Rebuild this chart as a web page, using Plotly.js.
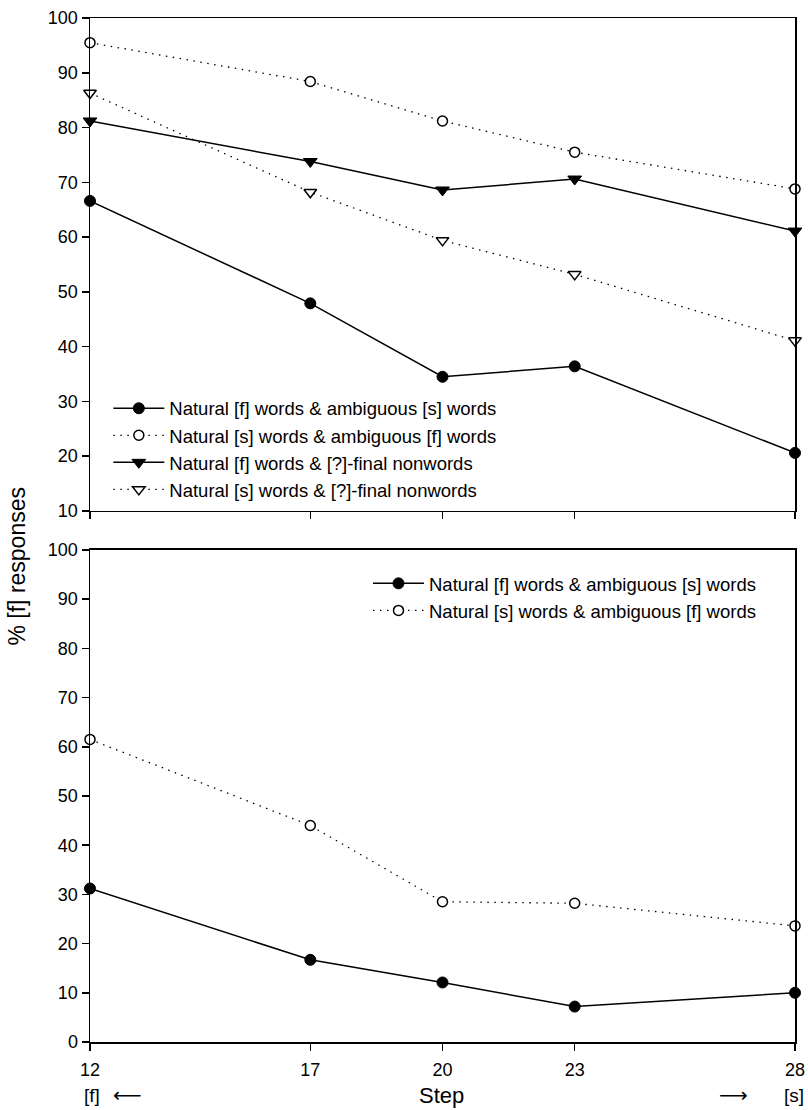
<!DOCTYPE html>
<html>
<head>
<meta charset="utf-8">
<script src="https://cdn.plot.ly/plotly-3.0.1.min.js"></script>
<style>html,body{margin:0;padding:0;background:#fff;}#chart{width:808px;height:1110px;}</style>
</head>
<body>
<div id="chart"></div>
<script>
// Steps on the [f]-[s] continuum
const steps = [12, 17, 20, 23, 28];
const stepTickLabels = ['12', '17', '20', '23', '28'];

// Top panel series (% [f] responses)
const topNatFAmbS = [66.6, 47.9, 34.5, 36.4, 20.6];
const topNatSAmbF = [95.5, 88.4, 81.2, 75.5, 68.8];
const topNatFNonword = [81.2, 73.8, 68.6, 70.6, 61.1];
const topNatSNonword = [86.3, 68.2, 59.4, 53.2, 41.1];

// Bottom panel series (% [f] responses)
const botNatFAmbS = [31.2, 16.7, 12.1, 7.2, 10.0];
const botNatSAmbF = [61.5, 44.0, 28.5, 28.2, 23.6];

const names = [
  'Natural [f] words & ambiguous [s] words',
  'Natural [s] words & ambiguous [f] words',
  'Natural [f] words & [?]-final nonwords',
  'Natural [s] words & [?]-final nonwords'
];

const FONT = 'Arial, "Liberation Sans", Helvetica, sans-serif';
const solid = {color: '#000', width: 1.5, dash: 'solid'};
const dotted = {color: '#000', width: 1.3, dash: '1.5px,5.5px'};
const filledCircle = {symbol: 'circle', size: 11, color: '#000', line: {color: '#000', width: 1}};
const openCircle = {symbol: 'circle', size: 10, color: '#fff', line: {color: '#000', width: 1.5}};
const filledTri = {symbol: 'triangle-down', size: 12, color: '#000', line: {color: '#000', width: 1}};
const openTri = {symbol: 'triangle-down', size: 11, color: '#fff', line: {color: '#000', width: 1.5}};

function tr(y, name, line, marker, xa, ya, legend) {
  return {x: steps, y: y, name: name, type: 'scatter', mode: 'lines+markers',
    line: line, marker: marker, xaxis: xa, yaxis: ya, legend: legend, cliponaxis: false};
}

const data = [
  tr(topNatFAmbS, names[0], solid, filledCircle, 'x2', 'y2', 'legend'),
  tr(topNatSAmbF, names[1], dotted, openCircle, 'x2', 'y2', 'legend'),
  tr(topNatFNonword, names[2], solid, filledTri, 'x2', 'y2', 'legend'),
  tr(topNatSNonword, names[3], dotted, openTri, 'x2', 'y2', 'legend'),
  tr(botNatFAmbS, names[0], solid, filledCircle, 'x', 'y', 'legend2'),
  tr(botNatSAmbF, names[1], dotted, openCircle, 'x', 'y', 'legend2')
];

const axisCommon = {
  showline: true, linecolor: '#000', linewidth: 1.5, mirror: true,
  ticks: 'outside', ticklen: 7, tickwidth: 1.5, tickcolor: '#000',
  showgrid: false, zeroline: false,
  tickfont: {family: FONT, size: 18, color: '#000'}
};

const legendFont = {family: FONT, size: 18.5, color: '#000'};
const bottomRowY = -0.0518;

const layout = {
  width: 808, height: 1110,
  margin: {l: 90, r: 13, t: 18, b: 68},
  paper_bgcolor: '#fff', plot_bgcolor: '#fff',
  font: {family: FONT, size: 18, color: '#000'},
  showlegend: true,
  xaxis: Object.assign({}, axisCommon, {domain: [0, 1], anchor: 'y', range: [12, 28],
    tickmode: 'array', tickvals: steps, ticktext: stepTickLabels, ticklabelstandoff: 4}),
  xaxis2: Object.assign({}, axisCommon, {domain: [0, 1], anchor: 'y2', range: [12, 28],
    tickmode: 'array', tickvals: steps, ticktext: stepTickLabels, showticklabels: false}),
  yaxis: Object.assign({}, axisCommon, {domain: [0, 0.4805], anchor: 'x', range: [0, 100], dtick: 10, tick0: 0}),
  yaxis2: Object.assign({}, axisCommon, {domain: [0.5186, 1], anchor: 'x2', range: [10, 100], dtick: 10, tick0: 0}),
  legend: {x: 0.026, y: 0.637, xanchor: 'left', yanchor: 'top', bgcolor: 'rgba(0,0,0,0)',
    borderwidth: 0, itemwidth: 51, font: legendFont, tracegroupgap: 0},
  legend2: {x: 0.3943, y: 0.466, xanchor: 'left', yanchor: 'top', bgcolor: 'rgba(0,0,0,0)',
    borderwidth: 0, itemwidth: 51, font: legendFont, tracegroupgap: 0},
  annotations: [
    {text: 'Step', xref: 'paper', yref: 'paper', x: 0.499, y: bottomRowY, xanchor: 'center', yanchor: 'middle',
      showarrow: false, font: {family: FONT, size: 22, color: '#000'}},
    {text: '[f]', xref: 'paper', yref: 'paper', x: -0.0113, y: bottomRowY, xanchor: 'left', yanchor: 'middle',
      showarrow: false, font: {family: FONT, size: 19, color: '#000'}},
    {text: '\u27F5', xref: 'paper', yref: 'paper', x: 0.0525, y: bottomRowY, xanchor: 'center', yanchor: 'middle',
      showarrow: false, font: {family: '"DejaVu Sans", sans-serif', size: 20, color: '#000'}},
    {text: '\u27F6', xref: 'paper', yref: 'paper', x: 0.9127, y: bottomRowY, xanchor: 'center', yanchor: 'middle',
      showarrow: false, font: {family: '"DejaVu Sans", sans-serif', size: 20, color: '#000'}},
    {text: '[s]', xref: 'paper', yref: 'paper', x: 1.016, y: bottomRowY, xanchor: 'right', yanchor: 'middle',
      showarrow: false, font: {family: FONT, size: 19, color: '#000'}},
    {text: '% [f] responses', xref: 'paper', yref: 'paper', x: -0.104, y: 0.465, xanchor: 'center', yanchor: 'middle',
      textangle: -90, showarrow: false, font: {family: FONT, size: 23, color: '#000'}}
  ]
};

Plotly.newPlot('chart', data, layout, {displayModeBar: false, staticPlot: true});
</script>
</body>
</html>
